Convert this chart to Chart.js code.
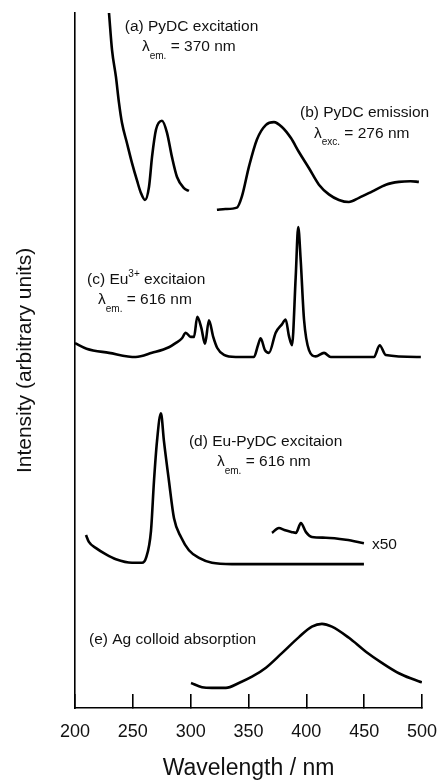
<!DOCTYPE html>
<html>
<head>
<meta charset="utf-8">
<script src="https://cdn.jsdelivr.net/npm/chart.js@4/dist/chart.umd.min.js"></script>
<style>
  html, body { margin: 0; padding: 0; background: #fff; }
  #wrap { width: 443px; height: 780px; position: relative; }
</style>
</head>
<body>
<div id="wrap"><canvas id="grafica"></canvas></div>
<script>
// wavelength (nm) and intensity (arbitrary units, curves are stacked)
const xTicks = [200, 250, 300, 350, 400, 450, 500];

const aX = [229.4, 232, 235.4, 238, 240.6, 244.9, 249.3, 253.6, 257, 260.5, 264, 266.6, 270, 275.2, 279.5, 283.8, 288.2, 294.2, 298.5];
const aY = [100, 94.7, 90.8, 87.1, 84.2, 81.3, 78.4, 75.9, 74.1, 73.1, 75, 79.3, 83.2, 84.5, 82.8, 79.3, 76.4, 74.8, 74.4];

const bX = [322.7, 330, 340, 344.3, 350.4, 357.3, 365.1, 372, 378.9, 386.7, 393.6, 402.2, 410.9, 419.5, 428.2, 436.8, 445.5, 456.7, 468.8, 480, 490, 497.3];
const bY = [71.7, 71.8, 72, 73.6, 77.9, 81.8, 83.9, 84.3, 83.6, 82, 80, 77.7, 75.3, 73.9, 73.1, 72.8, 73.4, 74.3, 75.3, 75.7, 75.8, 75.7];

const cX = [200, 210, 229.4, 252.5, 266.6, 281.2, 287, 292.5, 295.7, 300, 302.9, 305.7, 309.2, 312.4, 315.8, 319.5, 323, 328.8, 338.9, 354.7, 358.2, 360.5, 364.2, 367.7, 373.5, 378.9, 382.1, 385, 387.6, 390.8, 393, 395.1, 398, 402.3, 408.1, 415.3, 421.1, 458.5, 463.4, 468.6, 499];
const cY = [52.5, 51.7, 51.1, 50.5, 51.1, 51.9, 52.5, 53.2, 54, 53.4, 53.4, 56.3, 54.7, 52.4, 55.8, 53.4, 51.8, 50.8, 50.5, 50.5, 52.2, 53.2, 51.5, 51.1, 54, 55.2, 55.9, 53.5, 52.2, 62, 69.2, 64.5, 55.9, 51.5, 50.6, 51.1, 50.5, 50.5, 52.2, 50.8, 50.5];

const dX = [209.5, 212, 218.2, 226.8, 235.4, 249.3, 257.9, 261.4, 265.7, 268.3, 270.9, 274.3, 276.9, 281.2, 285.6, 291.6, 298.5, 307.2, 318.4, 335.7, 449.8];
const dY = [24.9, 23.9, 23, 22.1, 21.4, 20.9, 20.9, 21.6, 25.5, 32.7, 38.4, 42.4, 38.4, 32.7, 27.3, 24.6, 22.7, 21.6, 20.9, 20.7, 20.7];

// x50 expanded part of (d)
const d50X = [370.3, 376.3, 381, 387.6, 391, 395.3, 399.7, 404.8, 416.9, 434.2, 449.8];
const d50Y = [25.2, 25.9, 25.6, 25.3, 25.2, 26.6, 25.3, 24.6, 24.5, 24.2, 23.7];

const eX = [300.3, 309.8, 318.4, 330.5, 341.7, 353, 365.1, 378.9, 393.6, 404.8, 413.5, 422.1, 436.8, 451.5, 465.3, 480, 491.3, 499.9];
const eY = [3.6, 3, 2.9, 2.9, 3.6, 4.5, 5.8, 7.9, 10.2, 11.7, 12.1, 11.7, 10.1, 8.1, 6.5, 5, 4.2, 3.7];

// text next to the curves: start position in data units, then pieces
const etiquetas = [
  { x: 243, y: 98, partes: [{ t: '(a) PyDC excitation' }] },
  { x: 257.9, y: 95.1, partes: [{ t: 'λ' }, { t: 'em.', sub: true }, { t: ' = 370 nm' }] },
  { x: 394.5, y: 85.6, partes: [{ t: '(b) PyDC emission' }] },
  { x: 406.6, y: 82.7, partes: [{ t: 'λ' }, { t: 'exc.', sub: true }, { t: ' = 276 nm' }] },
  { x: 210.4, y: 61.6, partes: [{ t: '(c) Eu' }, { t: '3+', sup: true }, { t: ' excitaion' }] },
  { x: 219.9, y: 58.7, partes: [{ t: 'λ' }, { t: 'em.', sub: true }, { t: ' = 616 nm' }] },
  { x: 298.5, y: 38.3, partes: [{ t: '(d) Eu-PyDC excitaion' }] },
  { x: 322.7, y: 35.4, partes: [{ t: 'λ' }, { t: 'em.', sub: true }, { t: ' = 616 nm' }] },
  { x: 456.7, y: 23.5, partes: [{ t: 'x50' }] },
  { x: 212.1, y: 9.8, partes: [{ t: '(e) Ag colloid absorption' }] }
];

const fuente = '"Liberation Sans", Arial, sans-serif';

function puntos(xs, ys) {
  return xs.map((x, i) => ({ x: x, y: ys[i] }));
}

function curva(xs, ys) {
  return {
    data: puntos(xs, ys),
    borderColor: '#000',
    borderWidth: 2.6,
    pointRadius: 0,
    fill: false,
    cubicInterpolationMode: 'monotone'
  };
}

const textos = {
  id: 'textos',
  afterDatasetsDraw(chart) {
    const ctx = chart.ctx;
    const sx = chart.scales.x;
    const sy = chart.scales.y;
    ctx.save();
    ctx.fillStyle = '#111';
    ctx.textBaseline = 'middle';
    ctx.textAlign = 'left';
    etiquetas.forEach(et => {
      let px = sx.getPixelForValue(et.x);
      const py = sy.getPixelForValue(et.y);
      et.partes.forEach(p => {
        let dy = 0;
        if (p.sub) { ctx.font = '10px ' + fuente; dy = 9; }
        else if (p.sup) { ctx.font = '10px ' + fuente; dy = -6; }
        else { ctx.font = '15.5px ' + fuente; }
        ctx.fillText(p.t, px, py + dy);
        px += ctx.measureText(p.t).width;
      });
    });
    ctx.restore();
  }
};

const ctx = document.getElementById('grafica');
new Chart(ctx, {
  type: 'line',
  data: {
    datasets: [
      curva(aX, aY),
      curva(bX, bY),
      curva(cX, cY),
      curva(dX, dY),
      curva(d50X, d50Y),
      curva(eX, eY)
    ]
  },
  options: {
    responsive: true,
    maintainAspectRatio: false,
    devicePixelRatio: 1,
    animation: false,
    layout: { padding: { left: 0, right: 21, top: 13, bottom: 0 } },
    plugins: {
      legend: { display: false },
      tooltip: { enabled: false }
    },
    scales: {
      x: {
        type: 'linear',
        min: 200,
        max: 500,
        afterBuildTicks: (escala) => { escala.ticks = xTicks.map(v => ({ value: v })); },
        afterFit: (escala) => {
          escala.height = 72;
          escala.paddingLeft = 0;
          escala.paddingRight = 0;
        },
        ticks: {
          color: '#111',
          padding: 27,
          font: { family: fuente, size: 18 }
        },
        grid: {
          drawOnChartArea: false,
          drawTicks: true,
          tickLength: -14,
          color: '#000',
          lineWidth: 1.6
        },
        border: { display: true, color: '#000', width: 1.6 },
        title: {
          display: true,
          text: 'Wavelength / nm',
          color: '#111',
          font: { family: fuente, size: 23, lineHeight: 1 },
          padding: { top: 0, bottom: 0 }
        }
      },
      y: {
        min: 0,
        max: 100,
        afterFit: (escala) => { escala.width = 75; },
        ticks: { display: false },
        grid: { display: false },
        border: { display: true, color: '#000', width: 1.6 },
        title: {
          display: true,
          text: 'Intensity (arbitrary units)',
          color: '#111',
          font: { family: fuente, size: 21, lineHeight: 1 },
          padding: { top: 15, bottom: 15 }
        }
      }
    }
  },
  plugins: [textos]
});
</script>
</body>
</html>
